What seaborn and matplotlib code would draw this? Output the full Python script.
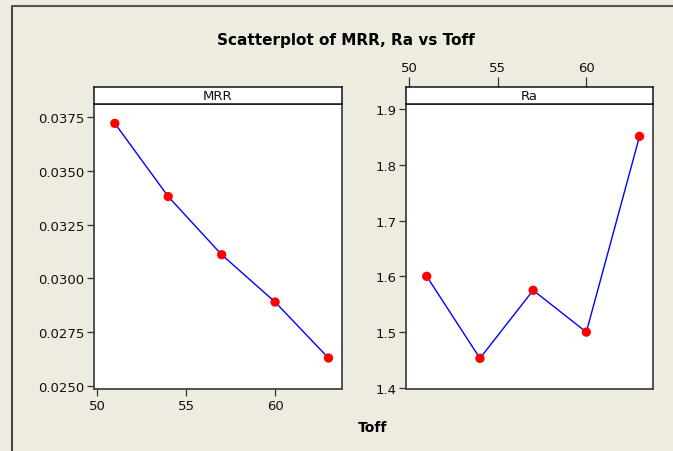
import matplotlib
matplotlib.use("Agg")
import matplotlib.pyplot as plt
import seaborn as sns
import pandas as pd
from matplotlib.patches import Rectangle
from matplotlib.lines import Line2D

sns.set_theme(style="white")
plt.rcParams['font.family'] = ['DejaVu Sans']

toff = [51, 54, 57, 60, 63]
mrr = [0.0372, 0.0338, 0.0311, 0.0289, 0.0263]
ra = [1.600, 1.453, 1.575, 1.500, 1.851]
mrr_ticks = [0.0250, 0.0275, 0.0300, 0.0325, 0.0350, 0.0375]
ra_ticks = [1.4, 1.5, 1.6, 1.7, 1.8, 1.9]
x_ticks = [50, 55, 60]

df = pd.DataFrame({"Toff": toff, "MRR": mrr, "Ra": ra})

W, H = 673, 452
bg = "#EEEBE1"
fig = plt.figure(figsize=(W / 100, H / 100), dpi=100, facecolor=bg)

def fr(x0, y0, x1, y1):
    return [x0 / W, 1 - y1 / H, (x1 - x0) / W, (y1 - y0) / H]

# outer border (left and top)
fig.add_artist(Line2D([12 / W, 12 / W], [0, 1 - 7 / H], transform=fig.transFigure, color="#222222", lw=1.2))
fig.add_artist(Line2D([12 / W, 1], [1 - 7 / H, 1 - 7 / H], transform=fig.transFigure, color="#555555", lw=1.5))

fs = 9.5
panels = [
    ("MRR", mrr_ticks, (0.02486, 0.0381), 94, 342, "bottom", lambda v: f"{v:.4f}"),
    ("Ra", ra_ticks, (1.398, 1.909), 406, 653, "top", lambda v: f"{v:.1f}"),
]
xlim = (49.83, 63.76)
for name, yt, ylim, x0, x1, xpos, fmt in panels:
    ax = fig.add_axes(fr(x0, 105, x1, 390))
    ax.set_facecolor("white")
    sns.lineplot(data=df, x="Toff", y=name, ax=ax, color="#0000FF", lw=1.0, sort=False)
    sns.scatterplot(data=df, x="Toff", y=name, ax=ax, color="#FF0000", s=45, edgecolor="none", zorder=3)
    ax.set_xlim(*xlim)
    ax.set_ylim(*ylim)
    ax.set_yticks(yt)
    ax.set_yticklabels([fmt(v) for v in yt], fontsize=fs, color="#111111")
    ax.set_xlabel("")
    ax.set_ylabel("")
    for s in ax.spines.values():
        s.set_color("#444444")
        s.set_linewidth(1.3)
    ax.tick_params(axis="y", left=True, length=5, width=0.9, color="#333333", pad=2)
    strip = fig.add_axes(fr(x0, 88, x1, 105), sharex=ax)
    strip.set_facecolor("white")
    strip.set_yticks([])
    for s in strip.spines.values():
        s.set_color("#111111")
        s.set_linewidth(1.1)
    strip.text(0.5, 0.5, name, transform=strip.transAxes, ha="center", va="center", fontsize=fs, color="#111111")
    if xpos == "bottom":
        ax.set_xticks(x_ticks)
        ax.set_xticklabels([str(v) for v in x_ticks], fontsize=fs, color="#111111")
        ax.tick_params(axis="x", bottom=True, length=5, width=0.9, color="#333333", pad=2)
        strip.tick_params(axis="x", bottom=False, top=False, labelbottom=False, labeltop=False)
    else:
        ax.tick_params(axis="x", bottom=False, labelbottom=False)
        strip.xaxis.tick_top()
        strip.set_xticks(x_ticks)
        strip.set_xticklabels([str(v) for v in x_ticks], fontsize=fs, color="#111111")
        strip.tick_params(axis="x", top=True, bottom=False, labeltop=True, labelbottom=False,
                          length=7, width=0.9, color="#333333", pad=2)

fig.text(346 / W, 1 - 40 / H, "Scatterplot of MRR, Ra vs Toff", ha="center", va="center",
         fontsize=11, fontweight="bold", color="#000000")
fig.text(373 / W, 1 - 428 / H, "Toff", ha="center", va="center", fontsize=10, fontweight="bold", color="#000000")

fig.savefig("out.png", dpi=100, facecolor=bg)
